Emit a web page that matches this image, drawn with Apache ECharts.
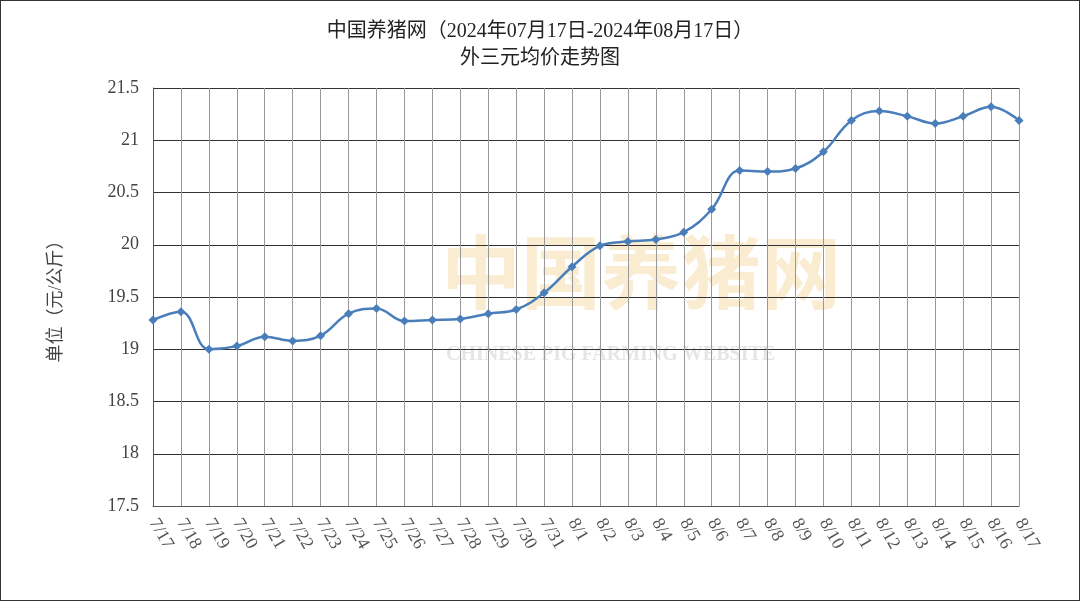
<!DOCTYPE html>
<html>
<head>
<meta charset="utf-8">
<script src="https://cdn.jsdelivr.net/npm/echarts@6/dist/echarts.min.js"></script>
<style>
html,body{margin:0;padding:0;background:#fff}
#chart{width:1078px;height:599px;border:1px solid #333}
</style>
</head>
<body>
<div id="chart"></div>
<script>
const days = ['7/17','7/18','7/19','7/20','7/21','7/22','7/23','7/24','7/25','7/26','7/27','7/28','7/29','7/30','7/31',
  '8/1','8/2','8/3','8/4','8/5','8/6','8/7','8/8','8/9','8/10','8/11','8/12','8/13','8/14','8/15','8/16','8/17']
const prices = [19.28,19.36,19.00,19.03,19.12,19.08,19.13,19.34,19.39,19.27,19.28,19.29,19.34,19.38,19.54,
  19.79,19.99,20.03,20.05,20.12,20.34,20.71,20.70,20.73,20.89,21.19,21.28,21.23,21.16,21.23,21.32,21.19]

const chart = echarts.init(document.getElementById('chart'))
const font = '"Liberation Serif","Noto Sans CJK SC",serif'
chart.setOption({
  animation: false,
  title: {
    text: '中国养猪网（2024年07月17日-2024年08月17日）\n外三元均价走势图',
    left: 'center', top: 12,
    textStyle: { fontSize: 20, fontWeight: 'normal', color: '#222', fontFamily: font, lineHeight: 27 }
  },
  graphic: [{
    type: 'text', left: 440, top: 240,
    style: { text: '中国养猪网', fontSize: 80, fontWeight: 'bold', fill: 'rgba(240,200,120,0.35)', fontFamily: font }
  }, {
    type: 'text', left: 445, top: 344,
    style: { text: 'CHINESE PIG FARMING WEBSITE', fontSize: 20, fontWeight: 'bold', fill: 'rgba(180,180,180,0.35)', fontFamily: font }
  }],
  grid: { left: 152, right: 60, top: 87, bottom: 94 },
  xAxis: {
    type: 'category', data: days, boundaryGap: false,
    axisLine: { lineStyle: { color: '#555' } },
    axisTick: { show: false },
    splitLine: { show: true, lineStyle: { color: '#999' } },
    axisLabel: { rotate: -60, interval: 0, fontSize: 18, color: '#555', fontFamily: font, margin: 14 }
  },
  yAxis: {
    type: 'value', min: 17.5, max: 21.5, interval: 0.5,
    name: '单位（元/公斤）', nameLocation: 'middle', nameGap: 88, nameRotate: 90,
    nameTextStyle: { fontSize: 18, color: '#444', fontFamily: font },
    axisLine: { show: true, lineStyle: { color: '#555' } },
    axisTick: { show: false },
    splitLine: { lineStyle: { color: '#333' } },
    axisLabel: { fontSize: 18, color: '#444', fontFamily: font, margin: 14 }
  },
  series: [{
    type: 'line', data: prices, smooth: 0.4,
    symbol: 'diamond', symbolSize: 9,
    lineStyle: { color: '#4a7ebb', width: 2.5 },
    itemStyle: { color: '#4a7ebb' }
  }]
})
</script>
</body>
</html>
